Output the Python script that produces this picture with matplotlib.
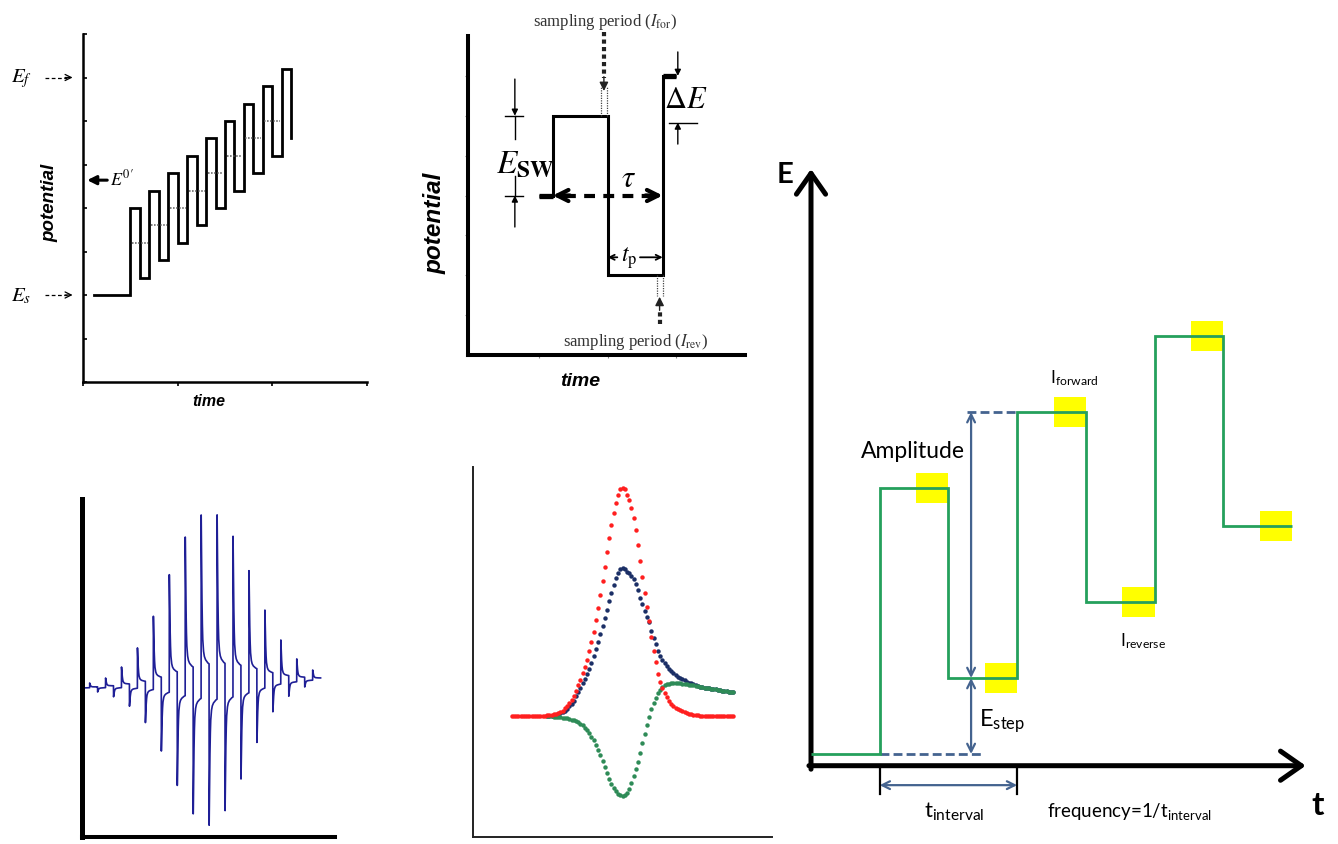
import matplotlib
matplotlib.use("Agg")
import matplotlib.pyplot as plt
from matplotlib.patches import Rectangle

plt.rcParams["mathtext.fontset"] = "stix"
plt.rcParams["font.family"] = ["Liberation Serif", "DejaVu Serif"]

W, H = 1338, 845

# staircase with superimposed pulses (top left)
pulse_start = [2.5, 3.5, 4.5, 5.5, 6.5, 7.5, 8.5, 9.5, 10.5]
pulse_end = [3.0, 4.0, 5.0, 6.0, 7.0, 8.0, 9.0, 10.0, 11.0]
pulse_top = [2.0, 2.4, 2.8, 3.2, 3.6, 4.0, 4.4, 4.8, 5.2]
pulse_bottom = [0.4, 0.8, 1.2, 1.6, 2.0, 2.4, 2.8, 3.2, 3.6]
stair_level = [1.2, 1.6, 2.0, 2.4, 2.8, 3.2, 3.6, 4.0]
scan_start = 0.6
E_start, E_final, E_formal = 0.0, 5.0, 2.64

# one square-wave cycle (top middle)
sw_edges = [1.0, 1.2, 2.0, 2.8, 3.0]
sw_levels = [0.0, 2.0, -2.0, 3.0]

# current transients at each potential step (bottom left)
spike_time = list(range(1, 30))
spike_height = [0.47, -0.46, 0.91, -1.0, 1.95, -2.0, 3.8, -3.7, 6.9, -6.6,
                11.0, -10.1, 14.7, -13.0, 16.85, -14.2, 16.8, -12.8, 14.6, -9.7,
                11.1, -6.1, 7.1, -3.1, 4.05, -1.6, 2.1, -0.74, 0.93]
decay_dt = [0.0, 0.05, 0.1, 0.15, 0.2, 0.3, 0.4, 0.55, 0.7, 0.85, 0.99]
decay_frac = [1.0, 0.72, 0.5, 0.35, 0.26, 0.19, 0.16, 0.14, 0.13, 0.12, 0.115]
baseline_drift = 0.03

# net and reverse currents of the voltammogram (bottom middle)
scan_step = list(range(101))
i_net = [0.0] * 14 + [
    0.02, 0.02, 0.03, 0.04, 0.08, 0.13, 0.19, 0.29, 0.40, 0.52,
    0.74, 0.98, 1.25, 1.58, 1.96, 2.48, 3.03, 3.62, 4.23, 4.90,
    5.60, 6.45, 7.38, 8.42, 9.57, 10.78, 12.08, 13.46, 14.90, 16.33,
    17.75, 19.10, 20.30, 21.29, 22.06, 22.63, 22.80, 22.63, 22.10, 21.57,
    20.74, 19.76, 18.54, 17.12, 15.49, 13.90, 12.30, 10.84, 9.46, 7.84,
    6.51, 5.42, 4.21, 3.40, 2.73, 2.28, 1.84, 1.45, 1.22, 1.01,
    0.79, 0.63, 0.53, 0.44, 0.34, 0.24, 0.20, 0.16, 0.12, 0.08,
    0.04] + [0.0] * 16
rev_first = 16
i_rev = [
    -0.04, -0.05, -0.06, -0.08, -0.10, -0.12, -0.15, -0.18, -0.22, -0.26,
    -0.32, -0.38, -0.45, -0.54, -0.65, -0.80, -0.96, -1.18, -1.42, -1.74,
    -2.08, -2.46, -2.92, -3.41, -3.95, -4.53, -5.13, -5.73, -6.28, -6.78,
    -7.22, -7.56, -7.80, -7.93, -8.00, -7.91, -7.72, -7.28, -6.73, -6.07,
    -5.34, -4.58, -3.68, -2.74, -1.82, -0.95, -0.13, 0.63, 1.26, 1.80,
    2.30, 2.61, 2.89, 3.03, 3.16, 3.21, 3.25, 3.26, 3.27, 3.26,
    3.24, 3.22, 3.19, 3.15, 3.11, 3.07, 3.03, 2.99, 2.94, 2.90,
    2.85, 2.82, 2.78, 2.74, 2.70, 2.66, 2.63, 2.59, 2.55, 2.51,
    2.47, 2.43, 2.40, 2.37, 2.34]
i_fwd = [n + r for n, r in zip(i_net[rev_first:], i_rev)]

# SWV waveform with sampling windows (right)
wf_edges = [0, 1, 2, 3, 4, 5, 6, 7]
wf_levels = [0.0, 3.5, 1.0, 4.5, 2.0, 5.5, 3.0]
E_step_val = 1.0
E_amp_top = 4.5


def panel(left, top, right, bottom, xlim, ylim):
    ax = fig.add_axes([left / W, 1 - bottom / H, (right - left) / W, (bottom - top) / H])
    ax.set_xlim(*xlim)
    ax.set_ylim(*ylim)
    ax.patch.set_alpha(0)
    return ax


def frame(ax, lw, color="k"):
    ax.spines[["top", "right"]].set_visible(False)
    for s in ("left", "bottom"):
        ax.spines[s].set_linewidth(lw)
        ax.spines[s].set_color(color)


def arrow(ax, xy, xytext, style="->", lw=1.0, color="k", ms=10, **kw):
    ax.annotate("", xy=xy, xytext=xytext, annotation_clip=False,
                arrowprops=dict(arrowstyle=style, lw=lw, color=color, mutation_scale=ms,
                                shrinkA=0, shrinkB=0, **kw))


fig = plt.figure(figsize=(W / 100, H / 100), dpi=100)
sans_bi = dict(family="Liberation Sans", weight="bold", style="italic")

# ---------- top left: staircase + pulses ----------
ax1 = panel(83, 35, 367, 383, (0, 15), (-2, 6))
frame(ax1, 1.8)
ax1.set_xticks([0, 5, 10, 15])
ax1.set_yticks(range(-2, 7))
ax1.tick_params(axis="y", direction="in", length=3, width=1.2, labelleft=False)
ax1.tick_params(axis="x", direction="out", length=3, width=1.2, labelbottom=False)

xs, ys = [scan_start, pulse_start[0]], [E_start, E_start]
prev = E_start
for t0, t1, top, bot in zip(pulse_start, pulse_end, pulse_top, pulse_bottom):
    xs += [t0, t0, t1, t1]
    ys += [prev, top, top, bot]
    prev = bot
ax1.plot(xs, ys, color="k", lw=2.0, solid_joinstyle="miter")
for k, lvl in enumerate(stair_level):
    ax1.plot([pulse_start[k] + 0.08, pulse_start[k + 1] - 0.08], [lvl, lvl],
             ls=(0, (1, 1)), lw=1.1, color="#555555")

for lvl, lab in ((E_final, r"$E_f$"), (E_start, r"$E_s$")):
    ax1.text(-3.25, lvl, lab, fontsize=15, ha="center", va="center")
    ax1.plot([-2.0, -0.85], [lvl, lvl], ls=(0, (3, 2)), lw=0.9, color="k", clip_on=False)
    arrow(ax1, (-0.55, lvl), (-0.95, lvl), lw=0.9, ms=11)
arrow(ax1, (0.22, E_formal), (1.28, E_formal), style="-|>", lw=2.2, ms=13)
ax1.text(1.4, E_formal + 0.05, r"$E^{0\prime}$", fontsize=13, ha="left", va="center")
ax1.text(-1.74, 2.14, "potential", rotation=90, ha="center", va="center", fontsize=13.5, **sans_bi)
ax1.text(6.63, -2.42, "time", ha="center", va="center", fontsize=11.5, **sans_bi)

# ---------- top middle: square-wave cycle ----------
ax2 = panel(468.1, 37, 745.2, 356, (-0.03, 4.0), (-4, 4))
frame(ax2, 2.9)
ax2.set_xticks([1, 2, 3])
ax2.set_yticks(range(-3, 4))
ax2.tick_params(direction="out", length=2.5, width=0.8, color="#888888",
                labelleft=False, labelbottom=False)
ax2.stairs(sw_levels, sw_edges, baseline=None, color="k", lw=2.2)
ax2.plot(sw_edges[:2], [sw_levels[0]] * 2, color="k", lw=3.8, solid_capstyle="butt")
ax2.plot(sw_edges[-2:], [sw_levels[-1]] * 2, color="k", lw=3.8, solid_capstyle="butt")

# E_sw dimension
for y_tip, y_tail, y_gap in ((sw_levels[1], 2.92, 1.42), (sw_levels[0], -0.79, 0.49)):
    arrow(ax2, (0.65, y_tip), (0.65, y_tail), style="-|>", lw=1.0, ms=9)
    ax2.plot([0.65, 0.65], [y_tip, y_gap], color="k", lw=1.0)
    ax2.plot([0.51, 0.77], [y_tip, y_tip], color="k", lw=1.0)
ax2.text(0.80, 0.81, r"$E_{\mathbf{SW}}$", fontsize=24, ha="center", va="center")

# tau (period)
ax2.plot([1.38, 2.62], [0, 0], color="k", lw=3.0, ls=(0, (2.6, 2.0)))
arrow(ax2, (sw_edges[1], 0), (1.45, 0), lw=3.0, ms=20)
arrow(ax2, (sw_edges[3], 0), (2.55, 0), lw=3.0, ms=20)
ax2.text(2.31, 0.42, r"$\tau$", fontsize=22, ha="center", va="center")

# t_p (pulse width)
arrow(ax2, (sw_edges[2], -1.55), (2.14, -1.55), lw=1.3, ms=9)
arrow(ax2, (sw_edges[3], -1.55), (2.47, -1.55), lw=1.3, ms=9)
ax2.text(2.31, -1.55, r"$t_{\mathrm{p}}$", fontsize=17, ha="center", va="center")

# sampling windows
for xa, xb, y0, y1 in ((1.90, 1.99, 2.0, 2.72), (2.71, 2.80, -2.0, -2.52)):
    for xx in (xa, xb):
        ax2.plot([xx, xx], [y0, y1], ls=(0, (1, 1)), lw=0.9, color="#444444")
ax2.plot([1.945, 1.945], [4.1, 2.95], ls=(0, (1, 0.8)), lw=3.0, color="#222222", clip_on=False)
arrow(ax2, (1.945, 2.62), (1.945, 2.98), style="-|>", lw=1.0, ms=13, color="#222222")
ax2.plot([2.755, 2.755], [-3.22, -2.85], ls=(0, (1, 0.8)), lw=3.0, color="#222222")
arrow(ax2, (2.755, -2.54), (2.755, -2.88), style="-|>", lw=1.0, ms=13, color="#222222")
ax2.text(1.96, 4.37, r"sampling period ($I_{\mathrm{for}}$)", fontsize=12, color="#333333",
         ha="center", va="center")
ax2.text(2.41, -3.64, r"sampling period ($I_{\mathrm{rev}}$)", fontsize=12, color="#333333",
         ha="center", va="center")

# Delta E
arrow(ax2, (3.02, sw_levels[-1]), (3.02, 3.6), style="-|>", lw=1.0, ms=9)
arrow(ax2, (3.02, 1.83), (3.02, 1.29), style="-|>", lw=1.0, ms=9)
ax2.plot([2.89, 3.30], [1.83, 1.83], color="k", lw=1.0)
ax2.text(3.14, 2.42, r"$\Delta E$", fontsize=22, ha="center", va="center")
ax2.text(-0.51, -0.66, "potential", rotation=90, ha="center", va="center", fontsize=17.5, **sans_bi)
ax2.text(1.60, -4.65, "time", ha="center", va="center", fontsize=14, **sans_bi)

# ---------- bottom left: current response ----------
ax3 = panel(81.7, 500, 335, 838, (0, 31.8), (-14.9, 18.9))
ax3.spines[["top", "right"]].set_visible(False)
ax3.spines["left"].set_linewidth(3.6)
ax3.spines["bottom"].set_linewidth(2.9)
ax3.set_xticks([])
ax3.set_yticks([])
tt, yy = [0.0, spike_time[0]], [0.0, baseline_drift * spike_time[0]]
for ts, a in zip(spike_time, spike_height):
    for dt, f in zip(decay_dt, decay_frac):
        tt.append(ts + dt)
        yy.append(baseline_drift * (ts + dt) + a * f)
ax3.plot(tt, yy, color="#1f1f96", lw=1.2)

# ---------- bottom middle: SWV currents ----------
ax4 = panel(473.3, 468, 771.7, 838, (-17.3, 117.3), (-12.13, 24.87))
frame(ax4, 1.4, "#222222")
ax4.set_xticks([])
ax4.set_yticks([])
dots = dict(ls="none", marker="o", ms=3.2, mew=0)
ax4.plot(scan_step[rev_first:], i_fwd, color="#1b2f66", **dots)
ax4.plot(scan_step[rev_first:], i_rev, color="#2e8b57", **dots)
ax4.plot(scan_step, i_net, color="#ff1f1f", **dots)

# ---------- right: SWV waveform ----------
green = "#25a05c"
steel = "#44638f"
sans = ["Lato", "DejaVu Sans"]
ax5 = panel(811, 170, 1305.7, 766.7, (0, 7.2), (-0.154, 7.7))
ax5.axis("off")
arrow(ax5, (0, 7.7), (0, -0.2), lw=3.6, ms=30, style="->,head_length=0.5,head_width=0.35")
arrow(ax5, (7.2, -0.154), (-0.03, -0.154), lw=3.6, ms=30, style="->,head_length=0.5,head_width=0.35")

for k in range(1, len(wf_levels)):
    ax5.add_patch(Rectangle((wf_edges[k] + 0.53, wf_levels[k] - 0.2), 0.47, 0.4,
                            facecolor="#ffff00", edgecolor="none", zorder=1))
ax5.stairs(wf_levels, wf_edges, baseline=None, color=green, lw=2.0, zorder=3)

ax5.plot([1, 2.52], [0, 0], ls=(0, (3.2, 1.5)), lw=2.0, color=steel, zorder=2)
ax5.plot([2.27, 3.0], [E_amp_top, E_amp_top], ls=(0, (3.2, 1.5)), lw=2.0, color=steel, zorder=2)
arrow(ax5, (2.33, E_amp_top), (2.33, E_step_val), style="<->", lw=1.6, color=steel, ms=14)
arrow(ax5, (2.33, E_step_val), (2.33, 0), style="<->", lw=1.6, color=steel, ms=14)
ax5.plot([1, 1], [-0.2, -0.53], color="k", lw=1.6, clip_on=False)
ax5.plot([3, 3], [-0.2, -0.53], color="k", lw=1.6, clip_on=False)
arrow(ax5, (3, -0.41), (1, -0.41), style="<->", lw=1.6, color=steel, ms=14)

ax5.text(-0.38, 7.63, "E", fontsize=21, weight="bold", family=sans, ha="center", va="center")
ax5.text(7.37, -0.67, "t", fontsize=24, weight="bold", family=sans, ha="center", va="center")
ax5.text(1.48, 3.99, "Amplitude", fontsize=16.5, family=sans, ha="center", va="center")
ax5.text(2.44, 0.45, r"$\mathregular{E_{step}}$", fontsize=17, family=sans, ha="left", va="center")
ax5.text(3.48, 4.96, r"$\mathregular{I_{forward}}$", fontsize=12.5, family=sans, ha="left", va="center")
ax5.text(4.5, 1.5, r"$\mathregular{I_{reverse}}$", fontsize=12.5, family=sans, ha="left", va="center")
ax5.text(2.08, -0.75, r"$\mathregular{t_{interval}}$", fontsize=16, family=sans, ha="center", va="center")
ax5.text(3.44, -0.75, r"frequency=1/$\mathregular{t_{interval}}$", fontsize=13.5, family=sans,
         ha="left", va="center")

fig.savefig("out.png", dpi=100)
